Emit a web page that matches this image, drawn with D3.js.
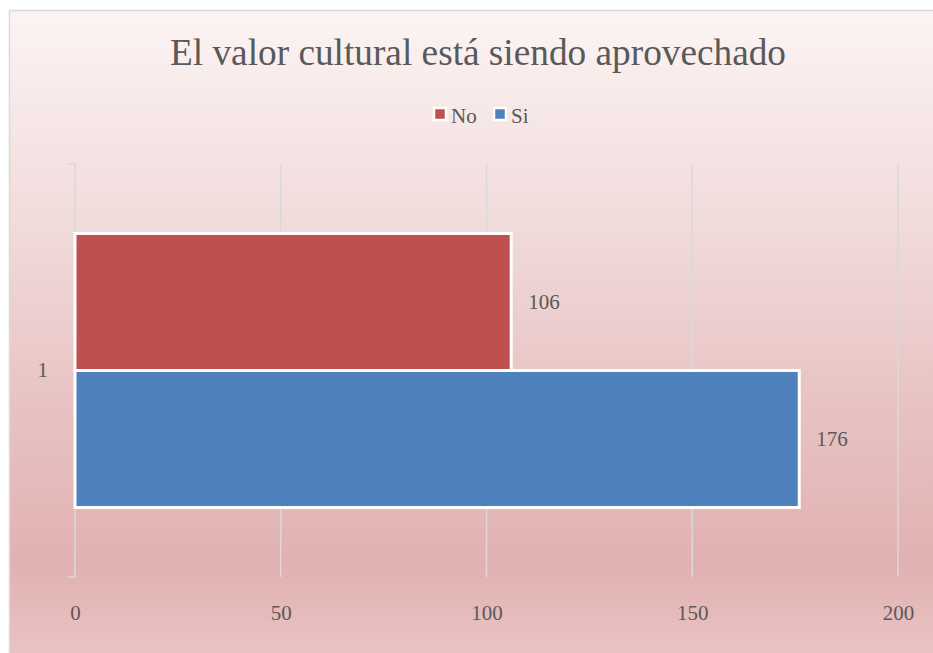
<!DOCTYPE html>
<html>
<head>
    <meta charset="UTF-8">
    <script src="https://d3js.org/d3.v7.min.js"></script>
</head>
<body style="margin:0">
<script>
    // data
    const categories = ["1"];
    const seriesNames = ["No", "Si"];
    const seriesValues = [106, 176];
    const seriesColors = ["#C0504D", "#4F81BD"];
    const xTicks = [0, 50, 100, 150, 200];

    const W = 933, H = 653;
    const plot = { left: 75, right: 898, top: 164, bottom: 577 };
    const FONT = '"Liberation Serif", "Times New Roman", Tinos, serif';
    const TEXT = "#595959";

    const svg = d3.select("body").append("svg")
        .attr("width", W)
        .attr("height", H)
        .style("font-family", FONT);

    // background gradient
    const defs = svg.append("defs");
    const grad = defs.append("linearGradient")
        .attr("id", "bg")
        .attr("x1", 0).attr("y1", 0).attr("x2", 0).attr("y2", 1);
    grad.append("stop").attr("offset", "0%").attr("stop-color", "#fcf4f3");
    grad.append("stop").attr("offset", "30%").attr("stop-color", "#f2dddd");
    grad.append("stop").attr("offset", "60%").attr("stop-color", "#e8c3c3");
    grad.append("stop").attr("offset", "85%").attr("stop-color", "#e2b1b1");
    grad.append("stop").attr("offset", "100%").attr("stop-color", "#eac5c5");

    svg.append("rect")
        .attr("x", 9.5).attr("y", 10.5)
        .attr("width", W).attr("height", H)
        .attr("fill", "url(#bg)")
        .attr("stroke", "#d9d9d9")
        .attr("stroke-width", 1.5);

    // scales
    const x = d3.scaleLinear()
        .domain([0, 200])
        .range([plot.left, plot.right]);

    const y0 = d3.scaleBand()
        .domain(categories)
        .range([plot.top, plot.bottom]);

    const y1 = d3.scaleBand()
        .domain(seriesNames)
        .range([0, y0.bandwidth()])
        .paddingInner(0)
        .paddingOuter(0.507);

    // gridlines
    svg.append("g")
        .selectAll("line")
        .data(xTicks.slice(1))
        .enter()
        .append("line")
        .attr("x1", d => x(d)).attr("x2", d => x(d))
        .attr("y1", plot.top).attr("y2", plot.bottom)
        .attr("stroke", "#d9d9d9")
        .attr("stroke-width", 1.5);

    // y axis with category ticks
    const yAxis = svg.append("g")
        .attr("transform", `translate(${plot.left},0)`)
        .call(d3.axisLeft(y0).tickSize(0).tickPadding(27));
    yAxis.attr("font-family", null).attr("font-size", null);
    yAxis.select(".domain")
        .attr("stroke", "#d9d9d9")
        .attr("stroke-width", 1.5)
        .attr("d", `M-7,${plot.top}H0V${plot.bottom}H-7`);
    yAxis.selectAll("text")
        .style("font-family", FONT)
        .style("font-size", "21px")
        .style("fill", TEXT);

    // x axis labels
    const xAxis = svg.append("g")
        .attr("transform", `translate(0,${plot.bottom})`)
        .call(d3.axisBottom(x).tickValues(xTicks).tickSize(0).tickPadding(28));
    xAxis.attr("font-family", null).attr("font-size", null);
    xAxis.select(".domain").remove();
    xAxis.selectAll("text")
        .style("font-family", FONT)
        .style("font-size", "21px")
        .style("fill", TEXT);

    // bars
    const bars = seriesNames.map((name, i) => ({ cat: categories[0], name: name, value: seriesValues[i], color: seriesColors[i] }));

    svg.append("g")
        .selectAll("rect")
        .data(bars)
        .enter()
        .append("rect")
        .attr("x", x(0))
        .attr("y", d => y0(d.cat) + y1(d.name))
        .attr("width", d => x(d.value) - x(0))
        .attr("height", y1.bandwidth())
        .attr("fill", d => d.color)
        .attr("stroke", "#fff")
        .attr("stroke-width", 3);

    // data labels
    svg.append("g")
        .selectAll("text")
        .data(bars)
        .enter()
        .append("text")
        .attr("x", d => x(d.value) + 17)
        .attr("y", d => y0(d.cat) + y1(d.name) + y1.bandwidth() / 2 + 7)
        .style("font-family", FONT)
        .style("font-size", "21px")
        .style("fill", TEXT)
        .text(d => d.value);

    // title
    svg.append("text")
        .attr("x", 170)
        .attr("y", 65)
        .attr("textLength", 616)
        .attr("lengthAdjust", "spacingAndGlyphs")
        .style("font-family", FONT)
        .style("font-size", "38px")
        .style("fill", TEXT)
        .text("El valor cultural está siendo aprovechado");

    // legend
    const legendX = [436, 496];
    const legend = svg.append("g");
    seriesNames.forEach((name, i) => {
        legend.append("rect")
            .attr("x", legendX[i] - 2)
            .attr("y", 108)
            .attr("width", 12)
            .attr("height", 12)
            .attr("fill", seriesColors[i])
            .attr("stroke", "#fff")
            .attr("stroke-width", 2.5);
        legend.append("text")
            .attr("x", legendX[i] + 15)
            .attr("y", 123)
            .style("font-family", FONT)
            .style("font-size", "21px")
            .style("fill", TEXT)
            .text(name);
    });
</script>
</body>
</html>
